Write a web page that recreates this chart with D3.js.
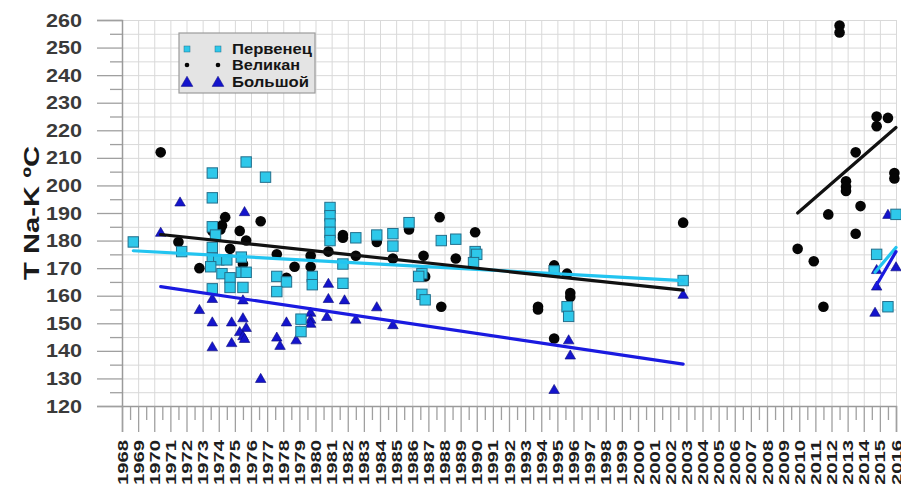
<!DOCTYPE html>
<html>
<head>
<meta charset="utf-8">
<script src="https://cdn.jsdelivr.net/npm/d3@7"></script>
<style>
  html, body { margin: 0; padding: 0; background: #fff; }
  svg { display: block; font-family: "Liberation Sans", Arial, sans-serif; }
</style>
</head>
<body>
<svg id="chart" width="901" height="484"></svg>
<script>
// Na-K geothermometer temperatures by sampling year, three sources

const seriesNames = ["Первенец", "Великан", "Большой"];

// [year, T °C]
const pervenets = [
  [1968.7, 179.5], [1971.7, 176], [1973.6, 204.5], [1973.6, 195.5], [1973.6, 185],
  [1973.8, 182], [1973.6, 177.5], [1973.6, 173.5], [1974.0, 173], [1974.5, 173],
  [1975.4, 174], [1973.5, 170.5], [1974.2, 168], [1974.7, 166.5], [1975.4, 168.5],
  [1975.7, 168.5], [1974.7, 163], [1975.5, 163], [1973.6, 162.5], [1975.7, 208.5],
  [1976.9, 203], [1977.6, 167], [1978.2, 165], [1977.6, 161.5], [1979.1, 151.5],
  [1979.1, 147], [1979.8, 167], [1979.8, 164], [1980.9, 192], [1980.9, 189],
  [1980.9, 186], [1980.9, 183], [1980.9, 180], [1981.7, 171.5], [1981.7, 164.5],
  [1982.5, 181], [1983.8, 182], [1984.8, 182.5], [1984.8, 178], [1985.8, 186.5],
  [1986.6, 168], [1986.4, 167], [1986.6, 160.5], [1986.8, 158.5], [1987.8, 180],
  [1988.7, 180.5], [1989.9, 176], [1990.0, 175], [1989.8, 172], [1994.8, 169],
  [1995.6, 156], [1995.7, 152.5], [2002.8, 165.5], [2014.8, 175], [2015.5, 156],
  [2016.0, 189.5]
];

const velikan = [
  [1970.4, 212], [1971.5, 179.5], [1972.8, 170], [1973.6, 183.5], [1974.2, 185.5],
  [1974.4, 188.5], [1974.1, 184], [1975.3, 183.5], [1975.7, 180], [1976.6, 187],
  [1974.7, 177], [1975.5, 171.5], [1977.6, 175], [1978.7, 170.5], [1978.2, 166.5],
  [1979.7, 174.5], [1979.7, 170.5], [1980.8, 176], [1981.7, 182], [1981.7, 181],
  [1982.5, 174.5], [1983.8, 179.5], [1984.8, 173.5], [1985.8, 184], [1986.7, 174.5],
  [1986.8, 167], [1987.7, 188.5], [1987.8, 156], [1988.7, 173.5], [1989.9, 183],
  [1993.8, 156], [1993.8, 155], [1994.8, 171], [1994.8, 170], [1995.6, 168],
  [1995.8, 161], [1995.8, 159.5], [1994.8, 144.5], [2002.8, 186.5], [2009.9, 177],
  [2010.9, 172.5], [2011.5, 156], [2011.8, 189.5], [2012.5, 258], [2012.5, 255.5],
  [2012.9, 201.5], [2012.9, 199.5], [2012.9, 198], [2013.5, 212], [2013.5, 182.5],
  [2013.8, 192.5], [2014.8, 225], [2015.5, 224.5], [2014.8, 221.5], [2015.9, 204.5],
  [2015.9, 202.5]
];

const bolshoy = [
  [1970.4, 183], [1971.6, 194], [1975.6, 190.5], [1972.8, 155], [1973.6, 159],
  [1973.6, 150.5], [1973.6, 141.5], [1974.8, 150.5], [1974.8, 143], [1975.5, 158.5],
  [1975.5, 152], [1975.7, 148.5], [1975.3, 147], [1975.5, 145.5], [1975.6, 144.5],
  [1976.6, 130], [1977.6, 145], [1977.8, 142], [1978.2, 150.5], [1978.8, 144],
  [1979.7, 154], [1979.7, 151.5], [1979.7, 150], [1980.7, 152.5], [1980.8, 159],
  [1980.8, 164.5], [1981.8, 158.5], [1982.5, 151.5], [1983.8, 156], [1984.8, 149.5],
  [1994.8, 126], [1995.7, 144], [1995.8, 138.5], [2002.8, 160.5], [2015.5, 189.5],
  [2014.8, 169.5], [2016.0, 170.5], [2014.8, 163.5], [2014.7, 154]
];

// Linear trends: two periods for each source, [year, T] end points
const trendPervenets = [[[1968.7, 176.3], [2002.8, 165.5]], [[2014.7, 168.5], [2016.0, 177.5]]];
const trendVelikan   = [[[1970.4, 182.2], [2002.8, 162.0]], [[2009.9, 190.0], [2016.0, 221.0]]];
const trendBolshoy   = [[[1970.4, 163.3], [2002.8, 135.2]], [[2014.7, 163.0], [2016.0, 176.0]]];

const yearTicks = d3.range(1968, 2017);
const tempTicks = d3.range(120, 261, 10);

const colors = {
  sq: "#2ec8ea", sqStroke: "#236f8c",
  dot: "#050505",
  tri: "#1414cc", triStroke: "#0a0a7a",
  lineCyan: "#22c4f0", lineBlack: "#111111", lineBlue: "#1a1ae0"
};

const svg = d3.select("#chart");
const x = d3.scaleLinear().domain([1968, 2016]).range([122, 896]);
const y = d3.scaleLinear().domain([120, 260]).range([406, 20]);

// grid
const grid = svg.append("g");
grid.append("g")
  .attr("transform", `translate(0,${y(120)})`)
  .call(d3.axisBottom(x).tickValues(yearTicks).tickSize(-(y(120) - y(260))).tickFormat(""))
  .call(g => g.select(".domain").remove())
  .selectAll("line").attr("stroke", "#d9d9d9");
grid.append("g")
  .attr("transform", `translate(${x(1968)},0)`)
  .call(d3.axisLeft(y).tickValues(d3.range(120, 261, 5)).tickSize(-(x(2016) - x(1968))).tickFormat(""))
  .call(g => g.select(".domain").remove())
  .selectAll("line").attr("stroke", "#d9d9d9");

// y axis: major ticks with labels, minor ticks at 5
const yAxis = svg.append("g").attr("transform", `translate(${x(1968)},0)`);
yAxis.call(d3.axisLeft(y).tickValues(d3.range(125, 260, 10)).tickSize(12).tickFormat(""));
yAxis.call(g => g.selectAll(".domain").remove());
const yMajor = svg.append("g").attr("transform", `translate(${x(1968)},0)`)
  .call(d3.axisLeft(y).tickValues(tempTicks).tickSize(25).tickPadding(15));
yMajor.select(".domain").attr("stroke", "#9a9a9a").attr("stroke-width", 1.5);
svg.selectAll("g.tick line").attr("stroke", "#a0a0a0").attr("stroke-width", 1.3);
grid.selectAll("line").attr("stroke", "#d9d9d9").attr("stroke-width", 1);
yMajor.selectAll("text")
  .attr("font-size", 19).attr("font-weight", "bold").attr("fill", "#3a3a3a")
  .attr("textLength", 36).attr("lengthAdjust", "spacingAndGlyphs");

// x axis: year ticks, half-year minor ticks, rotated labels
const xMinor = svg.append("g").attr("transform", `translate(0,${y(120)})`)
  .call(d3.axisBottom(x).tickValues(yearTicks.slice(0, -1).map(v => v + 0.5)).tickSize(14).tickFormat(""));
xMinor.select(".domain").remove();
xMinor.selectAll("line").attr("stroke", "#a0a0a0").attr("stroke-width", 1.3);
const xAxis = svg.append("g").attr("transform", `translate(0,${y(120)})`)
  .call(d3.axisBottom(x).tickValues(yearTicks).tickSize(26).tickFormat(d3.format("d")));
xAxis.select(".domain").attr("stroke", "#9a9a9a").attr("stroke-width", 1.5);
xAxis.selectAll("line").attr("stroke", "#a0a0a0").attr("stroke-width", 1.3);
xAxis.selectAll("text")
  .attr("transform", "rotate(-90)")
  .attr("x", -34).attr("y", 0).attr("dy", "0.36em")
  .attr("text-anchor", "end")
  .attr("font-size", 14).attr("font-weight", "bold").attr("fill", "#1e1e1e")
  .attr("textLength", 45).attr("lengthAdjust", "spacingAndGlyphs");

// axis title
svg.append("text")
  .attr("transform", "translate(39,213) rotate(-90)")
  .attr("text-anchor", "middle")
  .attr("font-size", 22).attr("font-weight", "bold").attr("fill", "#1a1a1a")
  .attr("textLength", 134).attr("lengthAdjust", "spacingAndGlyphs")
  .text("T Na-K ºC");

// markers
const triPath = d3.symbol().type(d3.symbolTriangle).size(48);
const marks = svg.append("g");
marks.selectAll("path.tri").data(bolshoy).join("path")
  .attr("class", "tri")
  .attr("d", triPath)
  .attr("transform", d => `translate(${x(d[0])},${y(d[1]) + 1})`)
  .attr("fill", colors.tri).attr("stroke", colors.triStroke).attr("stroke-width", 0.6);
marks.selectAll("circle").data(velikan).join("circle")
  .attr("cx", d => x(d[0])).attr("cy", d => y(d[1])).attr("r", 5.3)
  .attr("fill", colors.dot);
marks.selectAll("rect").data(pervenets).join("rect")
  .attr("x", d => x(d[0]) - 5.2).attr("y", d => y(d[1]) - 5.2)
  .attr("width", 10.4).attr("height", 10.4)
  .attr("fill", colors.sq).attr("stroke", colors.sqStroke).attr("stroke-width", 1);

// trend lines
const line = d3.line().x(d => x(d[0])).y(d => y(d[1]));
const trends = svg.append("g").attr("fill", "none").attr("stroke-width", 3.2).attr("stroke-linecap", "round");
trendPervenets.forEach(seg => trends.append("path").attr("d", line(seg)).attr("stroke", colors.lineCyan));
trendVelikan.forEach(seg => trends.append("path").attr("d", line(seg)).attr("stroke", colors.lineBlack));
trendBolshoy.forEach(seg => trends.append("path").attr("d", line(seg)).attr("stroke", colors.lineBlue));

// legend
const legend = svg.append("g");
legend.append("rect")
  .attr("x", 179).attr("y", 33).attr("width", 136).attr("height", 60)
  .attr("fill", "#e4e4e4").attr("stroke", "#9c9c9c").attr("stroke-width", 1.2);
const legendRows = [49, 65, 82];
const legendWidths = [80, 68, 77];
[187, 218].forEach(cx => {
  legend.append("rect").attr("x", cx - 3).attr("y", legendRows[0] - 3).attr("width", 6).attr("height", 6)
    .attr("fill", colors.sq).attr("stroke", colors.sqStroke).attr("stroke-width", 0.5);
  legend.append("circle").attr("cx", cx).attr("cy", legendRows[1]).attr("r", 2.3).attr("fill", colors.dot);
  legend.append("path").attr("d", d3.symbol().type(d3.symbolTriangle).size(60))
    .attr("transform", `translate(${cx},${legendRows[2] + 1})`)
    .attr("fill", colors.tri).attr("stroke", colors.triStroke).attr("stroke-width", 0.5);
});
seriesNames.forEach((name, i) => {
  legend.append("text")
    .attr("x", 232).attr("y", legendRows[i]).attr("dy", "0.36em")
    .attr("font-size", 15).attr("font-weight", "bold").attr("fill", "#151515")
    .attr("textLength", legendWidths[i]).attr("lengthAdjust", "spacingAndGlyphs")
    .text(name);
});
</script>
</body>
</html>
